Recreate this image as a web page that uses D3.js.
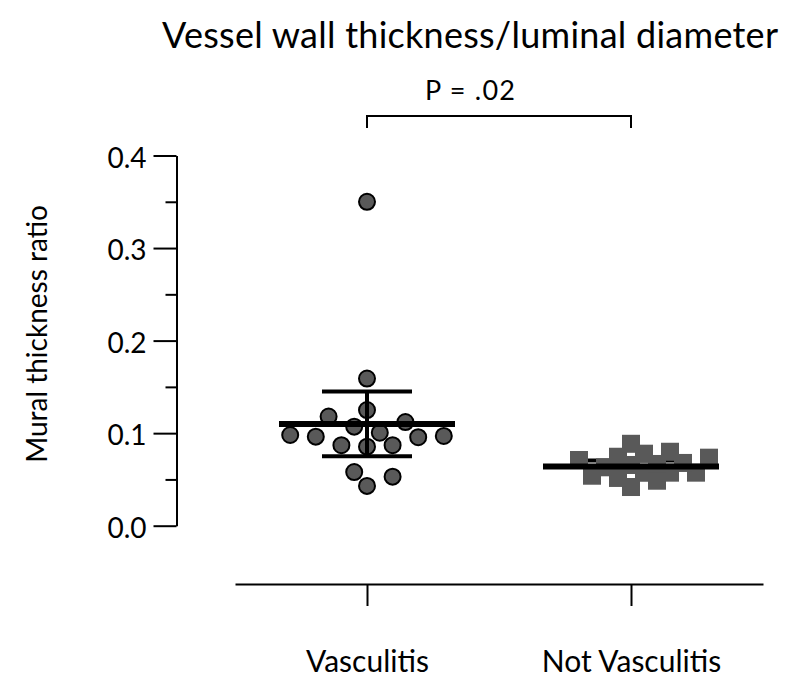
<!DOCTYPE html>
<html lang="en">
<head>
<meta charset="utf-8">
<style>
  body { margin: 0; background: #fff; }
  svg text { font-family: Lato, "Open Sans", sans-serif; fill: #000; }
</style>
</head>
<body>
<div id="chart"></div>
<script src="https://d3js.org/d3.v7.min.js"></script>
<script>
// data
var groups = ["Vasculitis", "Not Vasculitis"];
var vasculitisValues = [0.35, 0.159, 0.125, 0.118, 0.112, 0.107, 0.1005, 0.098, 0.097,
                        0.0962, 0.0956, 0.087, 0.087, 0.0854, 0.058, 0.053, 0.043];
var notVasculitisValues = [0.0885, 0.0799, 0.0778, 0.0745, 0.0735, 0.071, 0.0678, 0.0667,
                           0.0656, 0.0631, 0.0573, 0.0573, 0.0572, 0.054, 0.0516, 0.0486, 0.0418];
var meanValues = [0.110, 0.064];
var ciLow = [0.075, 0.059];
var ciHigh = [0.145, 0.0705];
var yTicks = [0, 0.1, 0.2, 0.3, 0.4];
var yMinorTicks = [0.05, 0.15, 0.25, 0.35];
var title = "Vessel wall thickness/luminal diameter";
var yTitle = "Mural thickness ratio";
var pLabel = "P = .02";

var width = 798, height = 678;
var pointFill = "#595959";

var svg = d3.select("#chart").append("svg")
    .attr("width", width)
    .attr("height", height);

var y = d3.scaleLinear().domain([0, 0.4]).range([525.7, 155.5]);
var x = d3.scalePoint().domain(groups).range([235, 763]).padding(0.5);

// title
svg.append("text")
    .attr("x", 162).attr("y", 48)
    .attr("textLength", 616).attr("lengthAdjust", "spacing")
    .style("font-size", "36px")
    .text(title);

// y axis: major + minor ticks
var yAxis = svg.append("g")
    .attr("transform", "translate(176.5,0)")
    .call(d3.axisLeft(y).tickValues(yTicks).tickFormat(d3.format(".1f"))
      .tickSize(23).tickSizeOuter(0).tickPadding(7));
yAxis.selectAll("text").style("font-size", "28px").attr("dy", "0.42em");
svg.append("g")
    .attr("transform", "translate(176.5,0)")
    .call(d3.axisLeft(y).tickValues(yMinorTicks).tickFormat("").tickSize(11).tickSizeOuter(0))
    .select(".domain").remove();
svg.selectAll(".tick line, .domain").attr("stroke", "#000").attr("stroke-width", 2);
yAxis.selectAll("text").attr("font-family", null);

svg.append("text")
    .attr("transform", "translate(47,334) rotate(-90)")
    .attr("text-anchor", "middle")
    .style("font-size", "28px")
    .text(yTitle);

// x axis
var xAxis = svg.append("g")
    .attr("transform", "translate(0,584)")
    .call(d3.axisBottom(x).tickSize(22).tickSizeOuter(0).tickPadding(45));
xAxis.select(".domain").attr("stroke-width", 2);
xAxis.selectAll(".tick line").attr("stroke-width", 2);
xAxis.selectAll("text").style("font-size", "30px").attr("font-family", null);

// simple swarm: ascending values, shift sideways in half slots until no collision
function swarm(values, cx, minDist, step) {
  var placed = [];
  values.slice().sort(d3.ascending).forEach(function(v) {
    var py = y(v);
    for (var k = 0; k < 40; k++) {
      var off = k === 0 ? 0 : (k % 2 ? 1 : -1) * Math.ceil(k / 2) * step;
      var ok = placed.every(function(p) {
        return Math.hypot(p.x - (cx + off), p.y - py) >= minDist;
      });
      if (ok) { placed.push({v: v, x: cx + off, y: py}); break; }
    }
  });
  return placed;
}

var cV = x(groups[0]), cN = x(groups[1]);
var vPts = swarm(vasculitisValues, cV, 17, 12.8);
var nPts = swarm(notVasculitisValues, cN, 15, 13);

function meanBar(i, half, w) {
  var cx = x(groups[i]);
  svg.append("line")
      .attr("x1", cx - half).attr("x2", cx + half)
      .attr("y1", y(meanValues[i])).attr("y2", y(meanValues[i]))
      .attr("stroke", "#000").attr("stroke-width", w);
}
function ciBars(i, half) {
  var cx = x(groups[i]);
  var g = svg.append("g").attr("stroke", "#000").attr("stroke-width", 4);
  g.append("line").attr("x1", cx).attr("x2", cx)
      .attr("y1", y(ciLow[i])).attr("y2", y(ciHigh[i]));
  [ciLow[i], ciHigh[i]].forEach(function(v) {
    g.append("line").attr("x1", cx - half).attr("x2", cx + half)
        .attr("y1", y(v)).attr("y2", y(v));
  });
}

// vasculitis: circles, then CI and mean on top
svg.append("g").selectAll("circle")
    .data(vPts)
  .enter().append("circle")
    .attr("cx", function(d) { return d.x; })
    .attr("cy", function(d) { return d.y; })
    .attr("r", 8)
    .attr("fill", pointFill)
    .attr("stroke", "#000")
    .attr("stroke-width", 2);
ciBars(0, 45);
meanBar(0, 88, 6);

// not vasculitis: CI under squares, mean over
ciBars(1, 45);
svg.append("g").selectAll("rect")
    .data(nPts)
  .enter().append("rect")
    .attr("x", function(d) { return d.x - 9; })
    .attr("y", function(d) { return d.y - 9; })
    .attr("width", 18).attr("height", 18)
    .attr("fill", pointFill);
meanBar(1, 88, 6);

// significance bracket
var bracket = svg.append("g").attr("stroke", "#000").attr("stroke-width", 2).attr("fill", "none");
bracket.append("path")
    .attr("d", d3.line()([[cV, 128], [cV, 116], [cN, 116], [cN, 128]]));
svg.append("text")
    .attr("x", 425).attr("y", 100)
    .attr("textLength", 90).attr("lengthAdjust", "spacing")
    .style("font-size", "27px")
    .text(pLabel);
</script>
</body>
</html>
